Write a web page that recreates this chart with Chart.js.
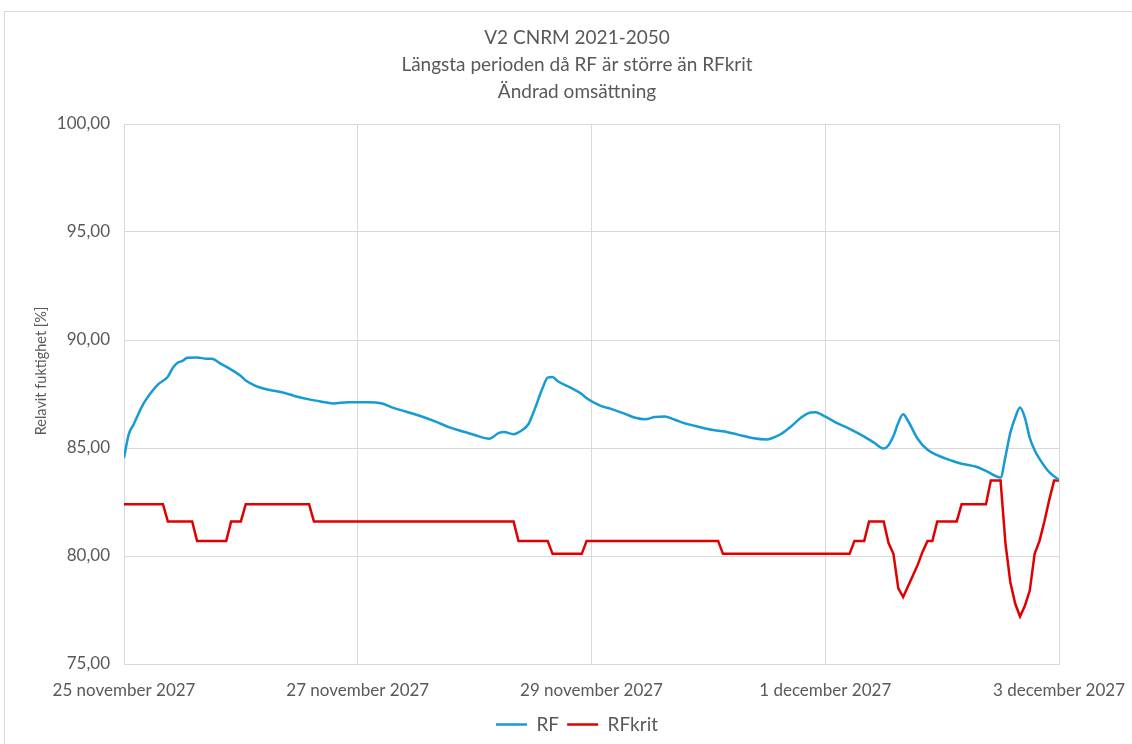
<!DOCTYPE html>
<html>
<head>
<meta charset="utf-8">
<title>RF och RFkrit</title>
<script src="https://cdn.jsdelivr.net/npm/chart.js@4.4.1/dist/chart.umd.min.js"></script>
<style>
  body { margin: 0; background: #fff; }
  #frame { position: absolute; left: 4px; top: 11px; width: 1200px; height: 800px; border: 1px solid #d9d9d9; }
  #wrap { position: absolute; left: 0; top: 0; width: 1132px; height: 744px; }
</style>
</head>
<body>
<div id="frame"></div>
<div id="wrap"><canvas id="chart"></canvas></div>
<script>
// timmar från 25 november 2027 00:00
const dateLabels = ['25 november 2027', '27 november 2027', '29 november 2027', '1 december 2027', '3 december 2027'];

const rfHours = [0, 1, 2, 3, 4, 5, 7, 9, 10, 11, 12, 13, 15, 17, 18, 20, 22, 24, 25, 27, 29, 33, 35, 38, 41, 43, 46, 50,
  53, 55, 58, 61, 64, 67, 70, 72, 75, 77, 78, 80, 81, 83, 84, 86, 87, 88, 89, 92, 94, 95, 98, 100, 103, 105, 107, 109,
  111, 113, 115, 118, 121, 124, 127, 129, 132, 133, 135, 137, 139, 141, 142, 144, 146, 149, 152, 154, 156, 157, 158,
  159, 160, 161, 163, 165, 167, 170, 172, 175, 177, 180, 181, 182, 183, 184, 185, 186, 187, 188, 190, 192];
const rfValues = [84.55, 85.65, 86.1, 86.6, 87.05, 87.4, 87.95, 88.3, 88.7, 88.95, 89.03, 89.18, 89.19, 89.13, 89.13,
  88.88, 88.63, 88.33, 88.12, 87.88, 87.73, 87.55, 87.41, 87.25, 87.13, 87.06, 87.12, 87.12,
  87.06, 86.88, 86.68, 86.47, 86.22, 85.94, 85.74, 85.6, 85.43, 85.7, 85.74, 85.64, 85.72, 86.09, 86.6, 87.8, 88.26,
  88.29, 88.1, 87.76, 87.5, 87.3, 86.94, 86.81, 86.57, 86.4, 86.33, 86.43,
  86.46, 86.32, 86.15, 85.98, 85.83, 85.73, 85.57, 85.46, 85.39, 85.45, 85.66, 86.0, 86.4, 86.64, 86.65, 86.45, 86.2,
  85.89, 85.53, 85.25, 84.98, 85.13, 85.55,
  86.17, 86.56, 86.25, 85.42, 84.92, 84.67, 84.41, 84.27, 84.13, 83.94, 83.64, 84.6, 85.7, 86.4, 86.87, 86.4, 85.47,
  84.9, 84.5, 83.88, 83.53];

const rfkritHours = [0, 8, 9, 14, 15, 21, 22, 24, 25, 38, 39, 80, 81, 87, 88, 94, 95, 122, 123, 149, 150, 152, 153,
  156, 157, 158, 159, 160, 161, 162, 163, 164, 165, 166, 167, 171, 172, 177, 178, 180, 181, 182, 183, 184, 185, 186,
  187, 188, 189, 190, 191, 192];
const rfkritValues = [82.4, 82.4, 81.6, 81.6, 80.7, 80.7, 81.6, 81.6, 82.4, 82.4, 81.6, 81.6, 80.7, 80.7, 80.1, 80.1,
  80.7, 80.7, 80.1, 80.1, 80.7, 80.7, 81.6,
  81.6, 80.6, 80.1, 78.5, 78.1, 78.6, 79.1, 79.6, 80.2, 80.7, 80.7, 81.6, 81.6, 82.4, 82.4, 83.5, 83.5, 80.6, 78.8,
  77.8, 77.2, 77.7, 78.4, 80.1, 80.7, 81.6, 82.6, 83.5, 83.5];

const yTitle = 'Relavit fuktighet [%]';

const textColor = '#595959';
const gridColor = '#d9d9d9';
const fontFamily = 'Lato, "Open Sans", sans-serif';

function points(hours, values) {
  return hours.map((h, i) => ({ x: h, y: values[i] }));
}

// y-axelns rubrik ritas för hand, lite ovanför mitten av diagramytan
const yTitlePlugin = {
  id: 'yTitle',
  afterDraw(chart) {
    const ctx = chart.ctx;
    ctx.save();
    ctx.translate(41, 371);
    ctx.rotate(-Math.PI / 2);
    ctx.font = '14.5px ' + fontFamily;
    ctx.fillStyle = textColor;
    ctx.textAlign = 'center';
    ctx.textBaseline = 'middle';
    ctx.fillText(yTitle, 0, 0);
    ctx.restore();
  }
};

new Chart(document.getElementById('chart'), {
  type: 'line',
  data: {
    datasets: [
      {
        label: 'RF',
        data: points(rfHours, rfValues),
        borderColor: '#169bd5',
        backgroundColor: '#169bd5',
        borderWidth: 2.5,
        pointRadius: 0,
        cubicInterpolationMode: 'monotone'
      },
      {
        label: 'RFkrit',
        data: points(rfkritHours, rfkritValues),
        borderColor: '#e00000',
        backgroundColor: '#e00000',
        borderWidth: 2.5,
        pointRadius: 0,
        tension: 0
      }
    ]
  },
  plugins: [yTitlePlugin],
  options: {
    responsive: true,
    maintainAspectRatio: false,
    animation: false,
    layout: { padding: { left: 22, right: 0, top: 0, bottom: 0 } },
    plugins: {
      title: {
        display: true,
        text: ['V2 CNRM 2021-2050', 'Längsta perioden då RF är större än RFkrit', 'Ändrad omsättning'],
        color: textColor,
        font: { family: fontFamily, size: 19, weight: 'normal', lineHeight: 27 / 19 },
        padding: { top: 24, bottom: 19 }
      },
      legend: {
        position: 'bottom',
        labels: {
          color: textColor,
          font: { family: fontFamily, size: 19 },
          usePointStyle: true,
          pointStyle: 'line',
          pointStyleWidth: 31,
          padding: 8
        }
      },
      tooltip: { enabled: false }
    },
    scales: {
      x: {
        type: 'linear',
        min: 0,
        max: 192,
        afterFit: (scale) => {
          scale.height = 43;
          scale.paddingLeft = 0;
          scale.paddingRight = 73;
        },
        ticks: {
          stepSize: 48,
          maxRotation: 0,
          padding: 16,
          color: textColor,
          font: { family: fontFamily, size: 17 },
          callback: (v) => dateLabels[v / 48]
        },
        grid: { color: gridColor, drawTicks: false },
        border: { color: gridColor }
      },
      y: {
        min: 75,
        max: 100,
        afterFit: (scale) => { scale.width = 102; },
        ticks: {
          stepSize: 5,
          padding: 14,
          color: textColor,
          font: { family: fontFamily, size: 17 },
          callback: (v) => v.toFixed(2).replace('.', ',')
        },
        grid: { color: gridColor, drawTicks: false },
        border: { color: gridColor }
      }
    }
  }
});
</script>
</body>
</html>
